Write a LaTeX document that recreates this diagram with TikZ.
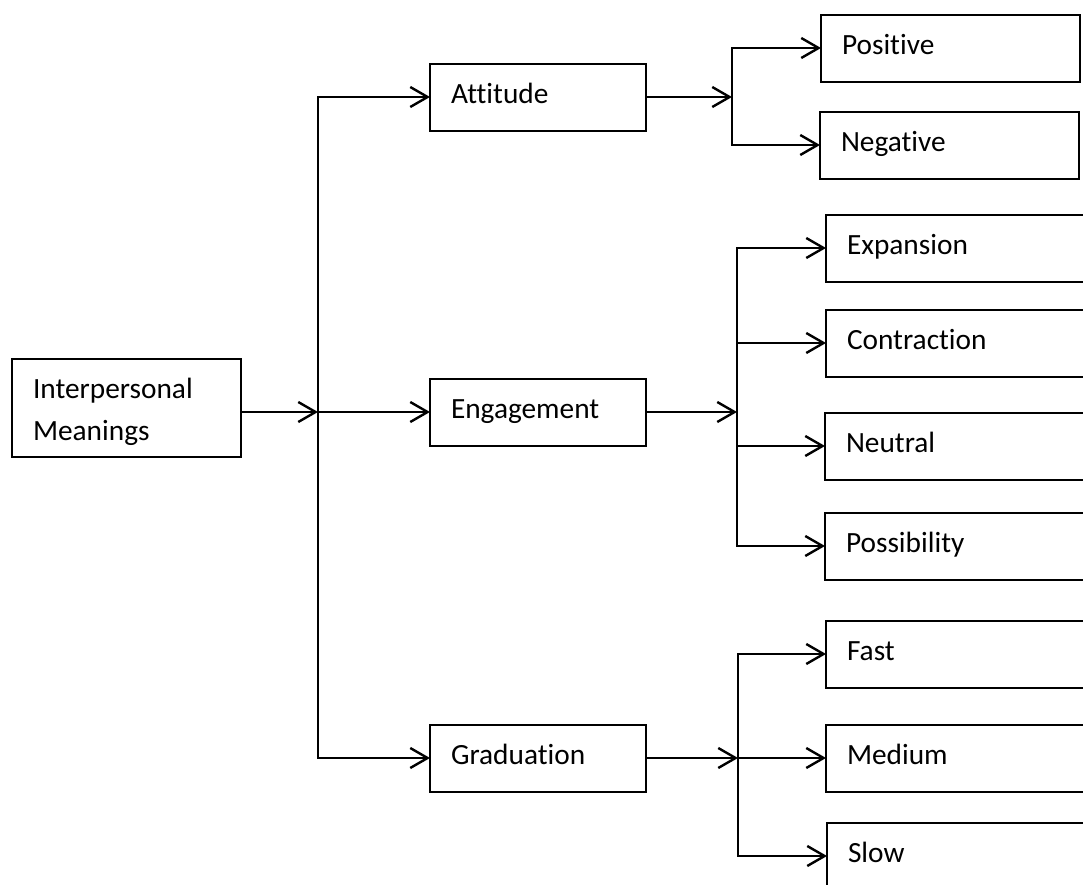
\documentclass[tikz,border=0pt]{standalone}
\usepackage{fontspec}
\setmainfont{Carlito}[Ligatures={NoCommon}]
\usetikzlibrary{arrows.meta}
\begin{document}
\begin{tikzpicture}[x=0.75pt,y=-0.75pt,
  box/.style={draw, line width=1.5pt, anchor=west, align=left, outer sep=0pt,
    font=\fontsize{22pt}{31.5pt}\selectfont,
    inner xsep=15.75pt, inner ysep=0pt,
    minimum height=50.25pt, text height=15pt, text depth=5.25pt},
  midbox/.style={box, text width=130.5pt},
  leafbox/.style={box, text width=162.75pt},
  widebox/.style={box, text width=180pt},
  link/.style={line width=1.8pt, -{Straight Barb[length=13pt,width=15pt]}}
]
\useasboundingbox (0,0) rectangle (1083,885);
\clip (0,0) rectangle (1083,885);

% root
\node[box, text width=140.25pt, minimum height=73.5pt,
      text height=15pt, text depth=30pt] (ip) at (12,408) {Interpersonal\\Meanings};

% second level
\node[midbox] (att)  at (430,97)    {Attitude};
\node[midbox] (eng)  at (430,412)   {Engagement};
\node[midbox] (grad) at (430,758)   {Graduation};

% leaves
\node[leafbox] (pos) at (821,48)  {Positive};
\node[leafbox] (neg) at (820,145) {Negative};

\node[widebox] (exp)  at (826,248) {Expansion};
\node[widebox] (con)  at (826,343) {Contraction};
\node[widebox] (neu)  at (825,446) {Neutral};
\node[widebox] (poss) at (825,546) {Possibility};

\node[widebox] (fast) at (826,654) {Fast};
\node[widebox] (med)  at (826,758) {Medium};
\node[widebox] (slow) at (827,856) {Slow};

% branching points
\coordinate (hub) at (318,412);
\coordinate (ha)  at (732,97);
\coordinate (he)  at (737,412);
\coordinate (hg)  at (738,758);

% root to second level
\draw[link] (ip.east |- hub) -- (hub);
\draw[link] (hub) |- (att.west);
\draw[link] (hub) -- (eng.west);
\draw[link] (hub) |- (grad.west);

% attitude
\draw[link] (att.east) -- (ha);
\draw[link] (ha) |- (pos.west);
\draw[link] (ha) |- (neg.west);

% engagement
\draw[link] (eng.east) -- (he);
\draw[link] (he) |- (exp.west);
\draw[link] (he) |- (con.west);
\draw[link] (he) |- (neu.west);
\draw[link] (he) |- (poss.west);

% graduation
\draw[link] (grad.east) -- (hg);
\draw[link] (hg) |- (fast.west);
\draw[link] (hg) -- (med.west);
\draw[link] (hg) |- (slow.west);
\end{tikzpicture}
\end{document}
